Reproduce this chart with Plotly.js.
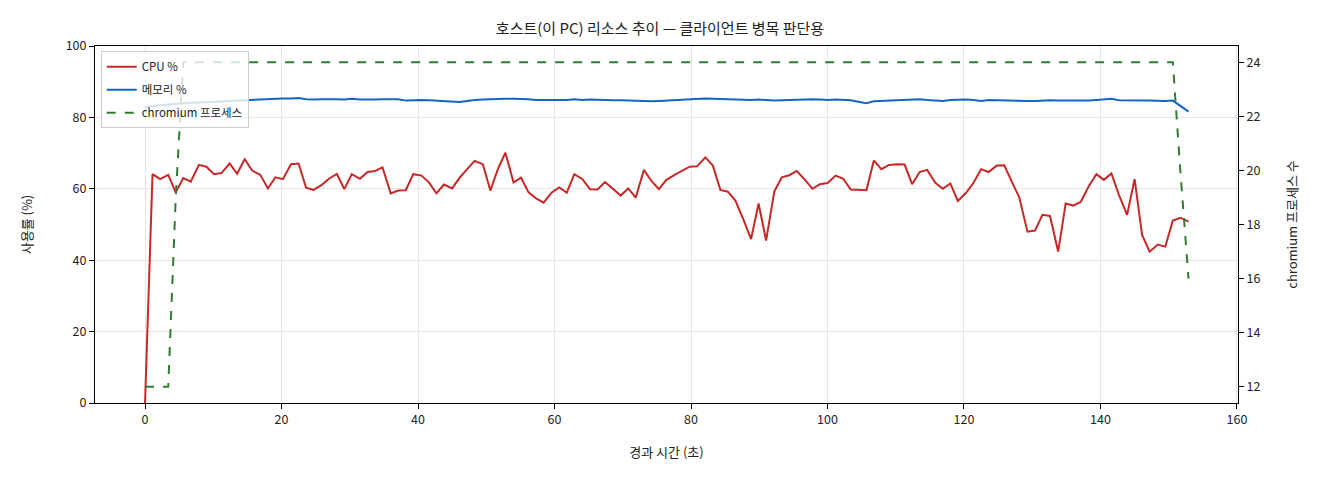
<!DOCTYPE html>
<html>
<head>
<meta charset="utf-8">
<script src="https://cdn.plot.ly/plotly-3.0.1.min.js"></script>
<style>html,body{margin:0;padding:0;background:#fff;}#chart{width:1320px;height:480px;}</style>
</head>
<body>
<div id="chart"></div>
<script>
const times = [0.0,1.1,2.2,3.4,4.5,5.6,6.7,7.9,9.0,10.1,11.2,12.4,13.5,14.6,15.7,16.9,18.0,19.1,20.2,21.4,22.5,23.6,24.7,25.9,27.0,28.1,29.2,30.3,31.5,32.6,33.7,34.8,36.0,37.1,38.2,39.3,40.5,41.6,42.7,43.8,45.0,46.1,47.2,48.3,49.5,50.6,51.7,52.8,54.0,55.1,56.2,57.3,58.4,59.6,60.7,61.8,62.9,64.1,65.2,66.3,67.4,68.6,69.7,70.8,71.9,73.1,74.2,75.3,76.4,77.6,78.7,79.8,80.9,82.1,83.2,84.3,85.4,86.5,87.7,88.8,89.9,91.0,92.2,93.3,94.4,95.5,96.7,97.8,98.9,100.0,101.2,102.3,103.4,104.5,105.7,106.8,107.9,109.0,110.2,111.3,112.4,113.5,114.6,115.8,116.9,118.0,119.1,120.3,121.4,122.5,123.6,124.8,125.9,127.0,128.1,129.3,130.4,131.5,132.6,133.8,134.9,136.0,137.1,138.3,139.4,140.5,141.6,142.7,143.9,145.0,146.1,147.2,148.4,149.5,150.6,151.7,152.9];

const cpu = [0,64.1,62.7,63.9,59.0,63.0,62.0,66.7,66.2,64.1,64.4,67.1,64.2,68.3,65.1,63.9,60.1,63.2,62.7,66.9,67.1,60.3,59.7,61.1,62.9,64.2,59.9,64.1,62.8,64.7,65.0,66.0,58.7,59.5,59.6,64.1,63.7,61.8,58.7,61.2,60.1,63.1,65.5,67.8,66.9,59.5,65.5,70.1,61.8,63.1,59.0,57.3,56.1,59.0,60.4,58.9,64.1,62.7,59.9,59.8,61.9,59.9,58.1,60.1,57.5,65.3,62.2,59.9,62.5,63.9,65.1,66.2,66.3,68.8,66.5,59.7,59.2,56.7,51.3,45.9,55.9,45.5,59.2,63.2,63.8,65.0,62.5,60.0,61.3,61.6,63.7,62.8,59.8,59.7,59.6,67.9,65.5,66.7,66.9,66.8,61.3,64.7,65.3,61.7,60.0,61.5,56.6,58.9,61.7,65.5,64.7,66.5,66.6,62.0,57.6,48.0,48.3,52.7,52.4,42.4,55.9,55.3,56.3,60.8,64.1,62.5,64.3,58.3,52.7,62.7,47.1,42.4,44.4,43.8,51.1,51.9,50.8];

const mem = [82.9,83.2,83.4,83.6,83.8,84.0,84.1,84.2,84.3,84.4,84.5,84.6,84.7,84.8,85.0,85.1,85.2,85.2,85.3,85.3,85.4,85.1,85.0,85.1,85.2,85.1,85.0,85.2,85.0,84.9,85.0,85.1,85.2,85.1,84.7,84.8,84.9,84.8,84.7,84.6,84.6,84.3,84.6,84.9,85.0,85.1,85.1,85.2,85.2,85.2,85.1,84.9,84.9,84.9,84.8,84.9,85.1,84.9,85.0,84.9,84.8,84.8,84.8,84.7,84.7,84.5,84.5,84.6,84.7,84.8,85.0,85.1,85.2,85.3,85.2,85.1,85.2,85.1,85.0,84.9,85.0,84.8,84.7,84.8,84.9,84.8,85.0,85.1,85.0,84.9,85.0,84.9,84.8,84.4,84.0,84.5,84.6,84.7,85.0,85.1,85.0,85.1,84.9,84.8,84.6,84.9,85.0,85.0,84.9,84.6,84.9,84.8,84.7,84.7,84.6,84.6,84.6,84.7,84.8,84.7,84.7,84.6,84.6,84.7,84.9,85.0,85.2,84.8,84.7,84.8,84.7,84.7,84.6,84.6,84.7,83.3,81.6];

const procs = [12,12,12,12,19,24,24,24,24,24,24,24,24,24,24,24,24,24,24,24,24,24,24,24,24,24,24,24,24,24,24,24,24,24,24,24,24,24,24,24,24,24,24,24,24,24,24,24,24,24,24,24,24,24,24,24,24,24,24,24,24,24,24,24,24,24,24,24,24,24,24,24,24,24,24,24,24,24,24,24,24,24,24,24,24,24,24,24,24,24,24,24,24,24,24,24,24,24,24,24,24,24,24,24,24,24,24,24,24,24,24,24,24,24,24,24,24,24,24,24,24,24,24,24,24,24,24,24,24,24,24,24,24,24,24,20,16];

const xTicks = [0,20,40,60,80,100,120,140,160];
const yTicks = [0,20,40,60,80,100];
const y2Ticks = [12,14,16,18,20,22,24];

const FONT = '"Noto Sans CJK KR", "DejaVu Sans", sans-serif';

const traces = [
  {x: times, y: cpu, name: 'CPU %', type: 'scatter', mode: 'lines', legendgroup: 'a',
   line: {color: '#c62828', width: 2}},
  {x: times, y: mem, name: '메모리 %', type: 'scatter', mode: 'lines', legendgroup: 'b',
   line: {color: '#1565c0', width: 2}},
  {x: times, y: procs, name: 'chromium 프로세스', type: 'scatter', mode: 'lines', yaxis: 'y2', legendgroup: 'c',
   line: {color: '#2e7d32', width: 2, dash: 'dash'}}
];

const layout = {
  width: 1320, height: 480,
  margin: {l: 95, r: 82, t: 46, b: 77},
  paper_bgcolor: '#fff', plot_bgcolor: '#fff',
  font: {family: FONT, size: 12, color: '#222'},
  title: {text: '호스트(이 PC) 리소스 추이 — 클라이언트 병목 판단용', x: 0.5, xanchor: 'center', y: 0.94, yanchor: 'middle', font: {size: 15, color: '#222', family: FONT}},
  xaxis: {range: [-7.33, 160.15], tickvals: xTicks, ticks: 'outside', ticklen: 5, tickcolor: '#000',
    showline: true, linecolor: '#000', linewidth: 1, mirror: true, zeroline: false,
    showgrid: true, gridcolor: '#e6e6e6', gridwidth: 1,
    title: {text: '경과 시간 (초)', standoff: 20, font: {size: 13}}, tickfont: {size: 12.5}},
  yaxis: {range: [0, 100], tickvals: yTicks, ticks: 'outside', ticklen: 5, tickcolor: '#000',
    showline: true, linecolor: '#000', linewidth: 1, zeroline: false,
    showgrid: true, gridcolor: '#e6e6e6', gridwidth: 1,
    title: {text: '사용률 (%)', standoff: 30, font: {size: 13}}, tickfont: {size: 12.5}},
  yaxis2: {range: [11.4, 24.6], tickvals: y2Ticks, overlaying: 'y', side: 'right',
    ticks: 'outside', ticklen: 5, tickcolor: '#000', showline: true, linecolor: '#000', linewidth: 1,
    showgrid: false, zeroline: false,
    title: {text: 'chromium 프로세스 수', standoff: 28, font: {size: 13}}, tickfont: {size: 12.5}},
  legend: {x: 0.005, y: 0.985, xanchor: 'left', yanchor: 'top',
    bgcolor: 'rgba(255,255,255,0.8)', bordercolor: '#cccccc', borderwidth: 1,
    font: {size: 11.5, family: FONT}, tracegroupgap: 4, itemwidth: 30},
  showlegend: true
};

Plotly.newPlot('chart', traces, layout, {displayModeBar: false, staticPlot: true});
</script>
</body>
</html>
